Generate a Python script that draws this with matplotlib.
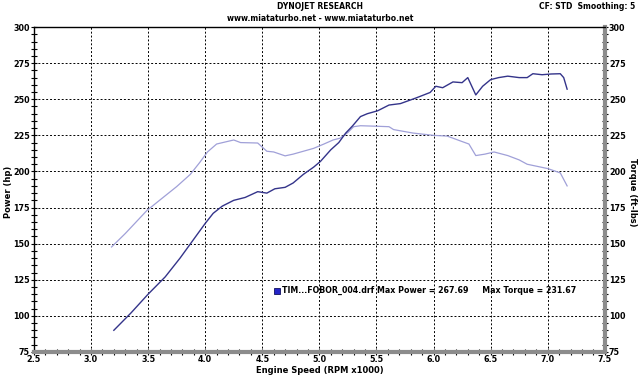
import numpy as np
import matplotlib.pyplot as plt
from matplotlib.ticker import MultipleLocator

# engine speed (RPM x1000) and power (hp)
rpm_p = [3.2, 3.35, 3.5, 3.65, 3.78, 3.89, 4.0, 4.07, 4.15, 4.25, 4.35, 4.46,
         4.54, 4.61, 4.70, 4.77, 4.86, 4.95, 5.01, 5.10, 5.17, 5.23, 5.29, 5.36,
         5.42, 5.51, 5.61, 5.71, 5.85, 5.97, 6.02, 6.08, 6.17, 6.25, 6.30, 6.37,
         6.43, 6.5, 6.57, 6.65, 6.75, 6.82, 6.87, 6.95, 7.03, 7.11, 7.14, 7.17]
power = [90, 102, 115, 127, 140, 152, 164, 171, 176, 180, 182, 186,
         185, 188, 189, 192, 198, 203, 207, 215, 220, 226.5, 231.5, 238,
         240, 242, 246, 247, 251, 254.7, 259, 258, 262, 261.5, 265, 253,
         259, 263.6, 265, 266, 265, 265, 267.7, 267, 267.5, 267.69, 265, 257]

# engine speed and torque (ft-lbs)
rpm_t = [3.18, 3.3, 3.49, 3.6, 3.75, 3.87, 3.95, 4.02, 4.1, 4.25, 4.31, 4.46,
         4.54, 4.60, 4.70, 4.77, 4.86, 4.95, 5.04, 5.12, 5.18, 5.25, 5.30, 5.36,
         5.47, 5.61, 5.65, 5.82, 6.0, 6.12, 6.24, 6.31, 6.37, 6.45, 6.53, 6.65,
         6.75, 6.82, 7.0, 7.11, 7.17]
torque = [147.7, 157, 173, 180, 189.5, 198, 206, 213.5, 219, 221.8, 220, 219.7,
          214, 213.5, 210.8, 212, 214, 216, 219, 221.8, 223, 227, 231, 231.67,
          231.4, 231, 229, 226.6, 225, 224.5, 221, 219, 211, 212, 213.5, 211,
          208, 205, 202, 199, 190]

fig = plt.figure(figsize=(6.4, 3.76), dpi=100)
ax = fig.add_axes([0.053, 0.064, 0.892, 0.864])

ax.plot(rpm_t, torque, color='#a0a0d8', lw=0.9)
ax.plot(rpm_p, power, color='#34348a', lw=1.0)

ax.set_xlim(2.5, 7.5)
ax.set_ylim(75, 300)
ax.xaxis.set_major_locator(MultipleLocator(0.5))
ax.xaxis.set_minor_locator(MultipleLocator(0.1))
ax.yaxis.set_major_locator(MultipleLocator(25))
ax.yaxis.set_minor_locator(MultipleLocator(5))
ax.xaxis.set_major_formatter(lambda v, p: f'{v:.1f}')
ax.grid(True, which='major', color='black', ls=(0, (2, 2)), lw=0.7)

ax.spines['top'].set_linewidth(1.0)
ax.spines['left'].set_linewidth(1.0)
for s in ['bottom', 'right']:
    ax.spines[s].set_color('#8c8c8c')
    ax.spines[s].set_linewidth(3)

ax.tick_params(which='both', direction='inout', labelsize=5.8, pad=1,
               right=True, labelright=True, color='black')
ax.tick_params(which='major', length=4, width=0.8)
ax.tick_params(which='minor', length=4, width=0.8)
ax.tick_params(axis='x', pad=0)
for lab in ax.get_xticklabels() + ax.get_yticklabels():
    lab.set_fontweight('bold')

fig.text(0.5, 0.002, 'Engine Speed (RPM x1000)', fontsize=6, fontweight='bold',
         ha='center', va='bottom')
fig.text(0.013, 0.49, 'Power (hp)', rotation=90, fontsize=6, fontweight='bold',
         ha='center', va='center')
fig.text(0.988, 0.49, 'Torque (ft-lbs)', rotation=270, fontsize=6,
         fontweight='bold', ha='center', va='center')

fig.text(0.5, 0.982, 'DYNOJET RESEARCH', fontsize=5.5, fontweight='bold',
         ha='center', va='center')
fig.text(0.5, 0.952, 'www.miataturbo.net - www.miataturbo.net', fontsize=5.5,
         fontweight='bold', ha='center', va='center')
fig.text(0.993, 0.982, 'CF: STD  Smoothing: 5', fontsize=5.5, fontweight='bold',
         ha='right', va='center')

ax.plot([4.63], [117.5], marker='s', ms=4.5, color='#2424c8', mec='#101060', mew=0.6)
ax.text(4.67, 117.5, 'TIM...FOBOR_004.drf Max Power = 267.69     Max Torque = 231.67',
        fontsize=5.7, fontweight='bold', va='center', ha='left')

fig.savefig('out.png', dpi=100)
